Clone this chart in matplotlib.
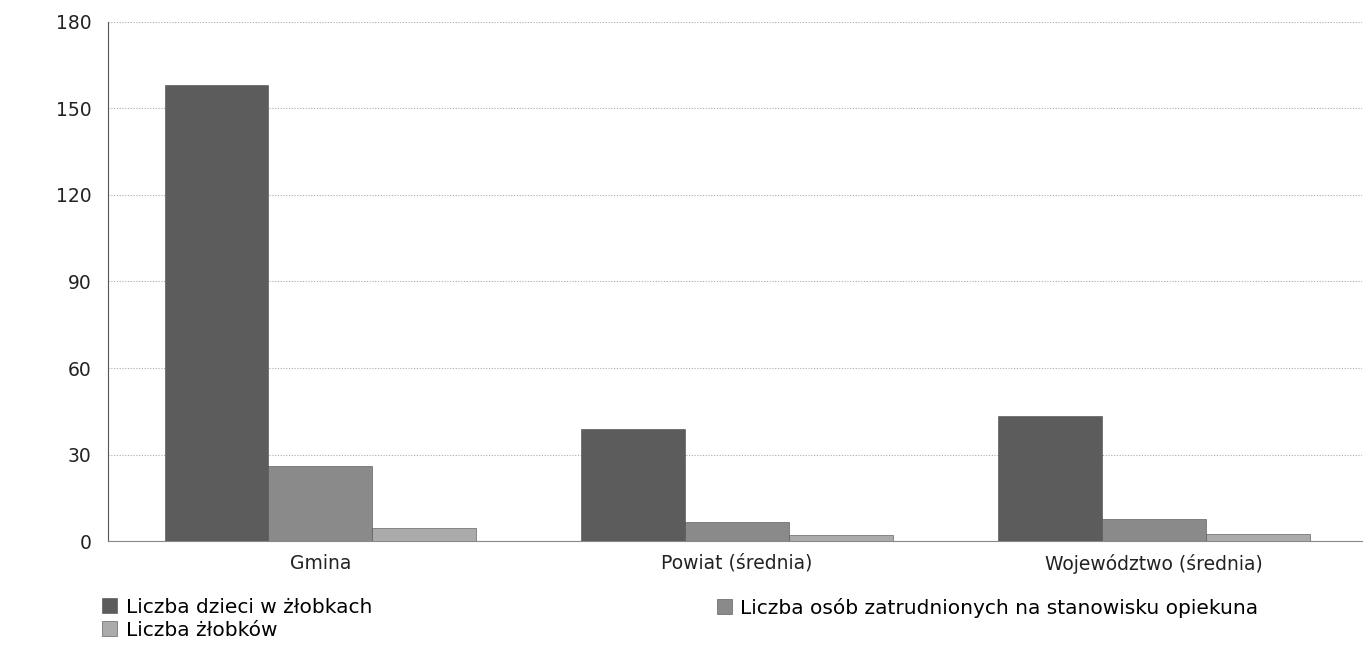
import numpy as np
import matplotlib
matplotlib.use("Agg")
import matplotlib.pyplot as plt

# values
groups = ["Gmina", "Powiat (średnia)", "Województwo (średnia)"]
dzieci = [158, 39, 43.5]
opiekunowie = [26, 6.7, 7.8]
zlobki = [4.5, 2, 2.5]

series_labels = ["Liczba dzieci w żłobkach",
                 "Liczba osób zatrudnionych na stanowisku opiekuna",
                 "Liczba żłobków"]
colors = ["#5c5c5c", "#8a8a8a", "#ababab"]
yticks = [0, 30, 60, 90, 120, 150, 180]

fig = plt.figure(figsize=(13.65, 6.46), dpi=100)
ax = fig.add_axes([0.079, 0.1625, 0.919, 0.8035])

x = np.arange(len(groups))
w = 0.249
bars = []
for i, vals in enumerate([dzieci, opiekunowie, zlobki]):
    b = ax.bar(x + (i - 1) * w, vals, width=w, color=colors[i],
               edgecolor="#4a4a4a", linewidth=0.4, label=series_labels[i], zorder=3)
    bars.append(b)

ax.set_xlim(-0.51, 2.5)
ax.set_ylim(0, 180)
ax.set_yticks(yticks)
ax.set_xticks(x)
ax.set_xticklabels(groups)
ax.tick_params(axis="both", length=0, labelsize=13.5, colors="#222222")
ax.tick_params(axis="x", pad=9)
ax.tick_params(axis="y", pad=12)
ax.yaxis.grid(True, linestyle=(0, (1, 1.5)), color="#aaaaaa", linewidth=0.8, zorder=0)

for s in ["top", "right"]:
    ax.spines[s].set_visible(False)
ax.spines["left"].set_color("#555555")
ax.spines["left"].set_linewidth(0.8)
ax.spines["bottom"].set_color("#888888")
ax.spines["bottom"].set_linewidth(0.8)

leg_kw = dict(loc="upper left", frameon=False, fontsize=14.5,
              handlelength=0.75, handleheight=0.75, handletextpad=0.4,
              labelspacing=0.2, borderaxespad=0, borderpad=0)
fig.legend([bars[0], bars[2]], [series_labels[0], series_labels[2]],
           bbox_to_anchor=(0.075, 0.075), **leg_kw)
fig.legend([bars[1]], [series_labels[1]],
           bbox_to_anchor=(0.525, 0.075), **leg_kw)

fig.savefig("out.png", dpi=100)
